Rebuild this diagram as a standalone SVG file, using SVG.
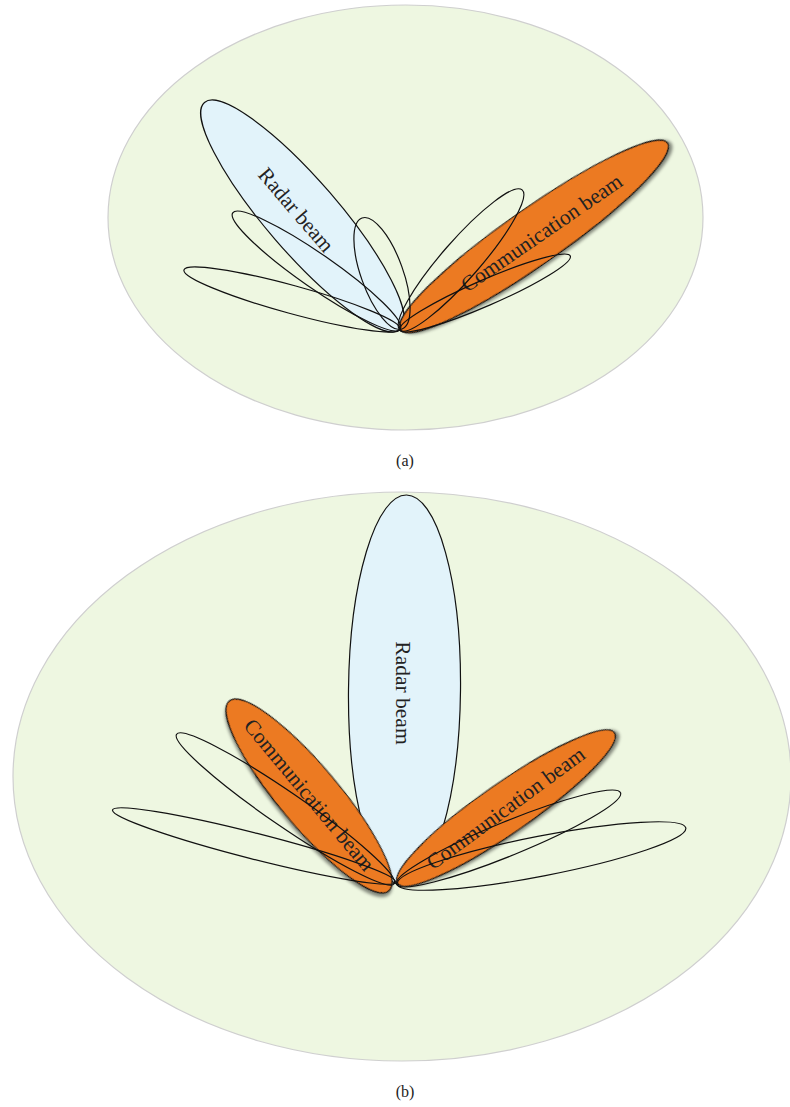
<svg xmlns="http://www.w3.org/2000/svg" width="790" height="1107" viewBox="0 0 790 1107">
<defs>
<filter id="shadow" x="-20%" y="-20%" width="140%" height="140%">
<feDropShadow dx="2.5" dy="2.5" stdDeviation="1.6" flood-color="#000" flood-opacity="0.45"/>
</filter>
<style>
.bg{fill:#eef7e1;stroke:#cfcfcf;stroke-width:1.2}
.radar{fill:#e2f3fa;stroke:#111;stroke-width:1.2}
.comm{fill:#ec7a23;stroke:#111;stroke-width:1.2;filter:url(#shadow)}
.lobe{fill:none;stroke:#111;stroke-width:1.2}
.lbl{font-family:"Liberation Serif","Times New Roman",serif;font-size:21.5px;fill:#222;text-anchor:middle;dominant-baseline:central}
.cap{font-family:"Liberation Serif","Times New Roman",serif;font-size:16px;fill:#222;text-anchor:middle}
</style>
</defs>
<rect width="790" height="1107" fill="#fff"/>

<!-- (a) -->
<g id="panel-a-bg"><ellipse class="bg" cx="405.5" cy="217.5" rx="297.5" ry="212.5"/></g>
<g id="a-radar-beam">
<ellipse class="radar" cx="302.5" cy="216" rx="150" ry="36" transform="rotate(49.2 302.5 216)"/>
<text class="lbl" transform="translate(296 210) rotate(49.4)">Radar beam</text>
</g>
<g id="a-comm-beam">
<ellipse class="comm" cx="534" cy="236.5" rx="163" ry="28" transform="rotate(-35 534 236.5)"/>
<text class="lbl" transform="translate(541.7 233) rotate(-34.5)">Communication beam</text>
</g>
<g id="a-side-lobes">
<ellipse class="lobe" cx="292" cy="299.5" rx="112" ry="14" transform="rotate(15.3 292 299.5)"/>
<ellipse class="lobe" cx="316.5" cy="271" rx="102" ry="17" transform="rotate(34.8 316.5 271)"/>
<ellipse class="lobe" cx="382" cy="273.5" rx="59" ry="21" transform="rotate(70.2 382 273.5)"/>
<ellipse class="lobe" cx="461" cy="260" rx="93" ry="19" transform="rotate(-48.9 461 260)"/>
<ellipse class="lobe" cx="485" cy="293" rx="93" ry="13" transform="rotate(-23.5 485 293)"/>
</g>
<g id="caption-a"><text class="cap" x="405" y="466">(a)</text></g>

<!-- (b) -->
<g id="panel-b-bg"><ellipse class="bg" cx="402" cy="776.5" rx="389" ry="284.5"/></g>
<g id="b-radar-beam">
<ellipse class="radar" cx="404.5" cy="690" rx="56" ry="195" transform="rotate(0.6 404.5 690)"/>
<text class="lbl" transform="translate(403 693) rotate(90)">Radar beam</text>
</g>
<g id="b-comm-beam-left">
<ellipse class="comm" cx="309" cy="796" rx="124" ry="30" transform="rotate(50 309 796)"/>
<text class="lbl" transform="translate(309 795) rotate(50.2)">Communication beam</text>
</g>
<g id="b-comm-beam-right">
<ellipse class="comm" cx="506" cy="808" rx="132" ry="25" transform="rotate(-34.8 506 808)"/>
<text class="lbl" transform="translate(505.8 808.3) rotate(-36.4)">Communication beam</text>
</g>
<g id="b-side-lobes">
<ellipse class="lobe" cx="254" cy="846" rx="146" ry="13" transform="rotate(14.3 254 846)"/>
<ellipse class="lobe" cx="285.4" cy="809" rx="132" ry="17" transform="rotate(34.5 285.4 809)"/>
<ellipse class="lobe" cx="508.5" cy="838.5" rx="121" ry="17" transform="rotate(-22.2 508.5 838.5)"/>
<ellipse class="lobe" cx="541.5" cy="856" rx="147" ry="20" transform="rotate(-11 541.5 856)"/>
</g>
<g id="caption-b"><text class="cap" x="405" y="1097">(b)</text></g>
</svg>
